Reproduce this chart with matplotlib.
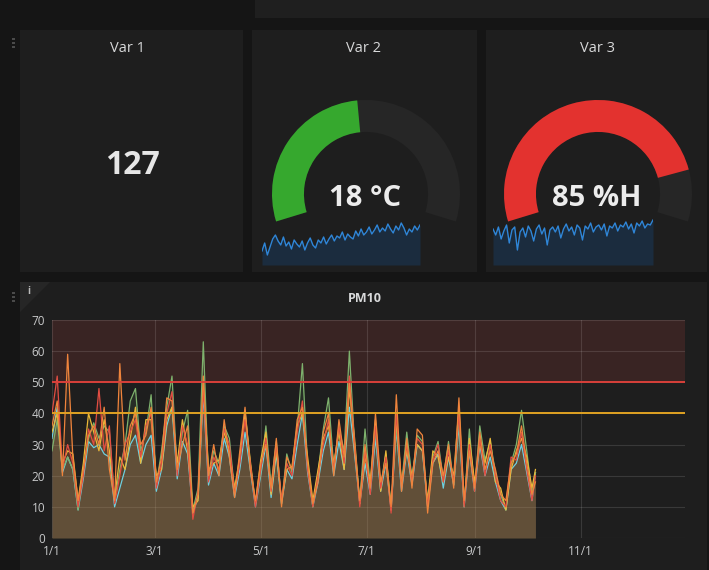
"""
Grafana-style dashboard: three stat panels and the PM10 time series
"""

import numpy as np
import matplotlib
matplotlib.use('Agg')
import matplotlib.pyplot as plt
import matplotlib.dates as mdates
from matplotlib.patches import Rectangle, Wedge, Polygon

plt.rcParams['font.family'] = ['Open Sans', 'DejaVu Sans']

# ---- data ----
panel_titles = ['Var 1', 'Var 2', 'Var 3']
var1_value = 127
temp_value, temp_min, temp_max = 18, -20, 60
hum_value, hum_min, hum_max = 85, 0, 100

spark_temp = [14, 22, 10, 18, 26, 30, 24, 20, 28, 19, 23, 16, 25, 21, 18, 24, 15, 22, 27, 20,
              17, 25, 22, 28, 21, 26, 30, 24, 29, 27, 33, 25, 31, 28, 26, 34, 29, 36, 30, 33,
              38, 31, 35, 40, 33, 37, 34, 41, 36, 32, 39, 35, 42, 37, 30, 36, 33, 39, 35, 40]
spark_hum = [36, 30, 38, 26, 34, 40, 22, 35, 38, 15, 33, 37, 28, 39, 34, 24, 36, 40, 31, 37,
             20, 35, 38, 33, 39, 27, 36, 41, 34, 38, 30, 40, 37, 25, 39, 36, 42, 33, 38, 40,
             35, 41, 29, 39, 37, 42, 34, 40, 38, 43, 36, 41, 32, 42, 39, 44, 37, 41, 40, 45]

start_date = np.datetime64('2019-01-01')
days = list(range(0, 277, 3)) + [278]

pm_red = [40, 52, 22, 30, 24, 10, 20, 35, 30, 48,
          28, 36, 11, 20, 30, 34, 38, 26, 36, 40,
          16, 24, 40, 47, 20, 36, 30, 6, 15, 48,
          18, 26, 22, 35, 30, 14, 24, 38, 24, 10,
          22, 32, 15, 30, 12, 24, 20, 34, 44, 22,
          10, 20, 30, 38, 22, 36, 24, 52, 30, 10,
          28, 14, 36, 16, 26, 8, 40, 16, 30, 18,
          32, 30, 10, 25, 30, 18, 28, 18, 40, 10,
          30, 15, 32, 20, 30, 20, 12, 10, 26, 25,
          34, 22, 12, 20]
pm_orange = [36, 44, 20, 59, 26, 12, 22, 33, 36, 30,
             42, 22, 12, 56, 25, 36, 40, 30, 33, 42,
             18, 26, 45, 44, 22, 30, 36, 8, 14, 52,
             20, 30, 20, 38, 26, 13, 28, 42, 22, 12,
             24, 30, 16, 32, 10, 26, 22, 38, 42, 24,
             11, 18, 34, 40, 20, 38, 26, 50, 28, 12,
             30, 16, 40, 18, 24, 10, 46, 15, 32, 16,
             35, 33, 8, 24, 28, 20, 30, 16, 45, 12,
             28, 16, 34, 22, 28, 22, 14, 12, 24, 27,
             36, 24, 14, 18]
pm_yellow = [34, 40, 24, 28, 27, 12, 24, 40, 34, 28,
             38, 28, 13, 26, 22, 32, 42, 24, 38, 38,
             20, 22, 38, 42, 24, 38, 28, 10, 12, 50,
             22, 24, 25, 34, 28, 16, 26, 40, 25, 11,
             25, 34, 14, 28, 12, 22, 23, 36, 40, 26,
             12, 22, 32, 36, 24, 34, 22, 48, 32, 11,
             26, 18, 38, 15, 28, 9, 38, 18, 28, 20,
             30, 28, 12, 28, 26, 18, 26, 20, 42, 11,
             32, 18, 30, 24, 32, 18, 16, 9, 22, 28,
             32, 26, 16, 22]
pm_green = [28, 38, 22, 26, 22, 9, 22, 32, 37, 32,
            36, 34, 12, 22, 30, 44, 48, 28, 34, 46,
            17, 28, 42, 52, 21, 34, 41, 9, 16, 63,
            19, 28, 24, 36, 32, 15, 25, 41, 24, 11,
            21, 36, 17, 31, 11, 27, 21, 35, 56, 23,
            10, 21, 35, 45, 23, 35, 28, 60, 30, 12,
            35, 17, 34, 17, 27, 10, 36, 17, 34, 19,
            33, 31, 11, 26, 31, 19, 31, 17, 38, 10,
            35, 15, 36, 25, 31, 21, 14, 9, 24, 30,
            41, 28, 14, 21]
pm_blue = [32, 42, 21, 26, 22, 9, 19, 31, 29, 30,
           27, 26, 10, 16, 22, 30, 33, 24, 30, 33,
           15, 22, 36, 42, 19, 31, 27, 8, 13, 46,
           17, 24, 20, 32, 26, 13, 22, 34, 22, 10,
           20, 30, 13, 27, 11, 22, 19, 30, 40, 21,
           10, 18, 28, 34, 20, 31, 22, 42, 27, 11,
           24, 14, 32, 15, 24, 9, 35, 15, 28, 17,
           30, 28, 10, 24, 27, 16, 26, 17, 36, 10,
           28, 15, 30, 20, 26, 18, 12, 9, 22, 24,
           30, 21, 12, 21]

warn_level = 40
crit_level = 50

# ---- colours ----
PAGE = '#151515'
PANEL = '#1e1e1e'
TEXT = '#d8d9da'

W, H = 709, 570


def box(x0, y0, x1, y1):
    """pixel box (top-left origin) -> figure fraction rect"""
    return [x0 / W, 1 - y1 / H, (x1 - x0) / W, (y1 - y0) / H]


def rect(x0, y0, x1, y1, color):
    b = box(x0, y0, x1, y1)
    fig.add_artist(Rectangle((b[0], b[1]), b[2], b[3], transform=fig.transFigure,
                             color=color, lw=0, zorder=-5))


def gauge(cx, cy, value, vmin, vmax, color):
    r = 94
    ax = fig.add_axes(box(cx - r, cy - r, cx + r, cy + r))
    ax.set_xlim(-1, 1)
    ax.set_ylim(-1, 1)
    ax.axis('off')
    a0, a1 = 197, -17
    ang = a0 - (value - vmin) / (vmax - vmin) * (a0 - a1)
    ax.add_patch(Wedge((0, 0), 1, a1, a0, width=0.34, color='#262626', lw=0))
    ax.add_patch(Wedge((0, 0), 1, ang, a0, width=0.34, color=color, lw=0))


def spark(x0, x1, vals):
    ax = fig.add_axes(box(x0, 215, x1, 265))
    ax.axis('off')
    idx = np.arange(len(vals))
    ax.fill_between(idx, vals, 0, color='#1b2c3e', lw=0)
    ax.plot(idx, vals, color='#2f86d8', lw=1)
    ax.set_xlim(0, len(vals) - 1)
    ax.set_ylim(0, 50)


fig = plt.figure(figsize=(W / 100, H / 100), dpi=100, facecolor=PAGE)

# top strip and panels
rect(255, 0, 709, 18, '#1f1f1f')
rect(20, 30, 243, 272, PANEL)
rect(252, 30, 477, 272, PANEL)
rect(486, 30, 707, 272, PANEL)
rect(20, 282, 707, 570, PANEL)

# drag handles
for yy in (38, 292):
    for k in range(3):
        rect(12, yy + k * 4, 15, yy + k * 4 + 2, '#4a4a4a')
# info corner
b0 = box(20, 282, 50, 312)
fig.add_artist(Polygon([[b0[0], b0[1] + b0[3]], [b0[0] + b0[2], b0[1] + b0[3]], [b0[0], b0[1]]],
                       closed=True, transform=fig.transFigure, color='#262626', lw=0, zorder=-4))
fig.text(29 / W, 1 - 291 / H, 'i', color='#bbbbbb', fontsize=7, fontweight='bold',
         ha='center', va='center')

# titles
for t, x in zip(panel_titles, (128, 364, 597)):
    fig.text(x / W, 1 - 48 / H, t, color=TEXT, fontsize=10.5, ha='center', va='center')

fig.text(132 / W, 1 - 165 / H, str(var1_value), color='#e6e6e6', fontsize=23,
         fontweight='bold', ha='center', va='center')

gauge(366, 194, temp_value, temp_min, temp_max, '#36a82e')
gauge(598, 194, hum_value, hum_min, hum_max, '#e3322f')
spark(262, 420, spark_temp)
spark(493, 653, spark_hum)

fig.text(365 / W, 1 - 198 / H, f'{temp_value} °C', color='#ececec', fontsize=21,
         fontweight='bold', ha='center', va='center')
fig.text(597 / W, 1 - 198 / H, f'{hum_value} %H', color='#ececec', fontsize=21,
         fontweight='bold', ha='center', va='center')

# ---- PM10 graph ----
fig.text(365 / W, 1 - 298 / H, 'PM10', color=TEXT, fontsize=9, fontweight='bold',
         ha='center', va='center')

ax = fig.add_axes(box(52, 320, 685, 538))
ax.set_facecolor(PANEL)
dates = start_date + np.array(days).astype('timedelta64[D]')

ax.axhspan(crit_level, 70, color='#e24d42', alpha=0.14, lw=0, zorder=0)

series = [(pm_blue, '#6ed0e0'), (pm_green, '#7eb26d'), (pm_yellow, '#eab839'),
          (pm_red, '#e24d42'), (pm_orange, '#ef843c')]
for vals, c in series:
    ax.fill_between(dates, vals, 0, color=c, alpha=0.1, lw=0, zorder=1)
for vals, c in series:
    ax.plot(dates, vals, color=c, lw=0.9, zorder=3)

ax.axhline(crit_level, color='#d9403a', lw=1.4, zorder=4)
ax.axhline(warn_level, color='#e0a223', lw=1.4, zorder=4)

ax.set_ylim(0, 70)
ax.set_yticks(range(0, 71, 10))
ax.set_xlim(start_date, start_date + np.timedelta64(364, 'D'))
ax.xaxis.set_major_locator(mdates.MonthLocator(bymonth=[1, 3, 5, 7, 9, 11]))
ax.xaxis.set_major_formatter(plt.FuncFormatter(
    lambda v, pos: f'{mdates.num2date(v).month}/{mdates.num2date(v).day}'))
ax.grid(True, color='#ffffff', alpha=0.12, lw=0.8, zorder=0.5)
ax.set_axisbelow(True)
for s in ax.spines.values():
    s.set_visible(False)
ax.tick_params(length=0, colors='#c8c9ca', labelsize=8.5, pad=5)

plt.savefig('out.png', dpi=100, facecolor=PAGE)
